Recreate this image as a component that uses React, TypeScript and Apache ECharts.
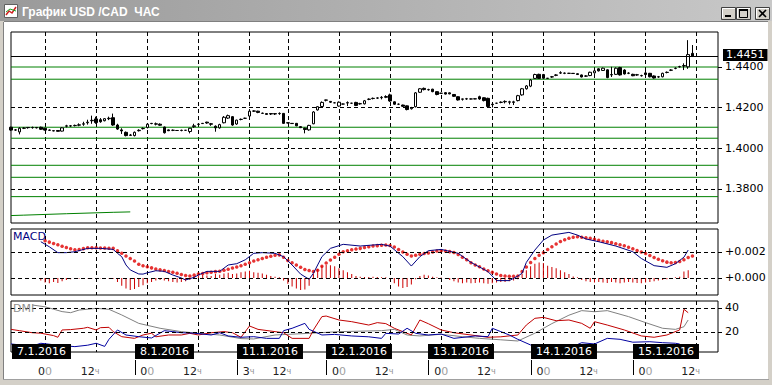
import React, { useEffect, useRef } from 'react';
import * as echarts from 'echarts';

// ---------- DATA ----------
const categories: string[] = Array.from({ length: 167 }, (_, i) => String(i));

// hourly candles [open, close, low, high], bar 0 .. 160
const candles: number[][] = [
  [1.4103,1.4089,1.4085,1.4106],[1.4089,1.4090,1.4085,1.4094],[1.4080,1.4098,1.4068,1.4103],[1.4098,1.4099,1.4094,1.4103],
  [1.4102,1.4101,1.4096,1.4103],[1.4101,1.4102,1.4096,1.4106],[1.4102,1.4100,1.4097,1.4104],[1.4103,1.4093,1.4090,1.4106],
  [1.4098,1.4089,1.4087,1.4100],[1.4089,1.4088,1.4085,1.4092],[1.4086,1.4085,1.4083,1.4087],[1.4087,1.4083,1.4082,1.4088],
  [1.4084,1.4100,1.4082,1.4103],[1.4108,1.4110,1.4102,1.4115],[1.4109,1.4110,1.4105,1.4114],[1.4111,1.4112,1.4107,1.4116],
  [1.4113,1.4115,1.4108,1.4122],[1.4118,1.4120,1.4110,1.4130],[1.4125,1.4128,1.4116,1.4140],[1.4135,1.4137,1.4120,1.4160],
  [1.4144,1.4126,1.4120,1.4155],[1.4140,1.4130,1.4125,1.4148],[1.4135,1.4145,1.4132,1.4148],[1.4145,1.4147,1.4138,1.4155],
  [1.4150,1.4114,1.4110,1.4170],[1.4114,1.4094,1.4090,1.4120],[1.4090,1.4085,1.4070,1.4098],[1.4078,1.4062,1.4058,1.4082],
  [1.4063,1.4065,1.4060,1.4070],[1.4062,1.4078,1.4058,1.4082],[1.4086,1.4088,1.4082,1.4093],[1.4096,1.4097,1.4092,1.4102],
  [1.4102,1.4118,1.4097,1.4121],[1.4122,1.4121,1.4118,1.4124],[1.4118,1.4120,1.4112,1.4126],[1.4118,1.4113,1.4110,1.4122],
  [1.4104,1.4076,1.4072,1.4106],[1.4090,1.4086,1.4084,1.4092],[1.4088,1.4088,1.4084,1.4092],[1.4087,1.4087,1.4086,1.4088],
  [1.4087,1.4088,1.4083,1.4091],[1.4088,1.4088,1.4086,1.4089],[1.4082,1.4098,1.4073,1.4100],[1.4106,1.4110,1.4100,1.4120],
  [1.4117,1.4118,1.4112,1.4122],[1.4122,1.4121,1.4119,1.4124],[1.4128,1.4124,1.4120,1.4130],[1.4120,1.4118,1.4110,1.4124],
  [1.4108,1.4100,1.4081,1.4112],[1.4100,1.4116,1.4096,1.4120],[1.4125,1.4152,1.4122,1.4158],[1.4148,1.4160,1.4144,1.4165],
  [1.4155,1.4114,1.4110,1.4158],[1.4119,1.4138,1.4115,1.4140],[1.4141,1.4142,1.4137,1.4146],[1.4147,1.4147,1.4144,1.4150],
  [1.4158,1.4182,1.4155,1.4186],[1.4182,1.4183,1.4178,1.4186],[1.4182,1.4176,1.4172,1.4184],[1.4171,1.4172,1.4168,1.4175],
  [1.4170,1.4166,1.4165,1.4172],[1.4170,1.4168,1.4163,1.4173],[1.4168,1.4170,1.4163,1.4173],[1.4170,1.4171,1.4164,1.4176],
  [1.4171,1.4122,1.4120,1.4173],[1.4125,1.4124,1.4122,1.4127],[1.4122,1.4121,1.4119,1.4123],[1.4122,1.4110,1.4108,1.4124],
  [1.4106,1.4101,1.4099,1.4108],[1.4098,1.4092,1.4073,1.4101],[1.4090,1.4112,1.4086,1.4115],[1.4120,1.4178,1.4118,1.4182],
  [1.4188,1.4204,1.4185,1.4206],[1.4205,1.4225,1.4202,1.4230],[1.4237,1.4236,1.4230,1.4238],[1.4230,1.4226,1.4222,1.4232],
  [1.4223,1.4223,1.4221,1.4225],[1.4207,1.4226,1.4204,1.4230],[1.4217,1.4217,1.4215,1.4219],[1.4222,1.4224,1.4207,1.4230],
  [1.4221,1.4221,1.4219,1.4223],[1.4225,1.4210,1.4207,1.4228],[1.4218,1.4219,1.4214,1.4223],[1.4218,1.4233,1.4215,1.4237],
  [1.4240,1.4241,1.4236,1.4245],[1.4244,1.4245,1.4240,1.4249],[1.4246,1.4247,1.4242,1.4250],[1.4248,1.4250,1.4240,1.4256],
  [1.4250,1.4254,1.4246,1.4260],[1.4262,1.4232,1.4228,1.4268],[1.4228,1.4216,1.4213,1.4230],[1.4216,1.4216,1.4212,1.4220],
  [1.4212,1.4206,1.4203,1.4214],[1.4208,1.4190,1.4186,1.4210],[1.4194,1.4200,1.4190,1.4203],[1.4204,1.4272,1.4200,1.4276],
  [1.4275,1.4292,1.4272,1.4295],[1.4294,1.4288,1.4284,1.4298],[1.4287,1.4288,1.4283,1.4292],[1.4290,1.4278,1.4275,1.4292],
  [1.4278,1.4264,1.4260,1.4280],[1.4270,1.4270,1.4268,1.4272],[1.4273,1.4266,1.4264,1.4276],[1.4272,1.4267,1.4265,1.4274],
  [1.4264,1.4255,1.4252,1.4266],[1.4253,1.4237,1.4234,1.4255],[1.4242,1.4241,1.4234,1.4243],[1.4242,1.4243,1.4238,1.4247],
  [1.4242,1.4242,1.4240,1.4244],[1.4242,1.4243,1.4241,1.4245],[1.4253,1.4242,1.4238,1.4258],[1.4248,1.4234,1.4230,1.4250],
  [1.4245,1.4205,1.4202,1.4248],[1.4216,1.4214,1.4200,1.4218],[1.4221,1.4221,1.4219,1.4223],[1.4225,1.4226,1.4221,1.4230],
  [1.4228,1.4230,1.4220,1.4235],[1.4226,1.4228,1.4215,1.4233],[1.4225,1.4228,1.4212,1.4233],[1.4234,1.4258,1.4230,1.4262],
  [1.4262,1.4292,1.4258,1.4296],[1.4292,1.4306,1.4288,1.4310],[1.4305,1.4335,1.4300,1.4340],[1.4343,1.4362,1.4340,1.4366],
  [1.4363,1.4343,1.4340,1.4366],[1.4362,1.4344,1.4341,1.4365],[1.4344,1.4343,1.4341,1.4345],[1.4350,1.4351,1.4346,1.4355],
  [1.4358,1.4360,1.4354,1.4364],[1.4369,1.4371,1.4365,1.4378],[1.4368,1.4369,1.4364,1.4372],[1.4368,1.4368,1.4366,1.4370],
  [1.4368,1.4367,1.4365,1.4369],[1.4366,1.4362,1.4360,1.4368],[1.4360,1.4350,1.4348,1.4362],[1.4354,1.4355,1.4350,1.4359],
  [1.4357,1.4373,1.4354,1.4376],[1.4370,1.4380,1.4366,1.4384],[1.4390,1.4380,1.4377,1.4393],[1.4382,1.4393,1.4380,1.4396],
  [1.4385,1.4347,1.4344,1.4388],[1.4360,1.4362,1.4350,1.4400],[1.4363,1.4393,1.4360,1.4397],[1.4396,1.4360,1.4357,1.4400],
  [1.4384,1.4365,1.4362,1.4388],[1.4368,1.4369,1.4364,1.4373],[1.4363,1.4356,1.4354,1.4366],[1.4360,1.4361,1.4356,1.4365],
  [1.4356,1.4357,1.4352,1.4361],[1.4370,1.4362,1.4350,1.4398],[1.4368,1.4351,1.4348,1.4370],[1.4355,1.4345,1.4342,1.4358],
  [1.4350,1.4351,1.4346,1.4355],[1.4351,1.4368,1.4348,1.4371],[1.4372,1.4373,1.4368,1.4377],[1.4383,1.4384,1.4379,1.4388],
  [1.4392,1.4393,1.4388,1.4397],[1.4400,1.4401,1.4396,1.4405],[1.4404,1.4406,1.4384,1.4417],[1.4400,1.4460,1.4390,1.4531],
  [1.4466,1.4451,1.4448,1.4507],
];

const lastPrice = 1.4451;
const priceTicks = [1.44, 1.42, 1.40, 1.38];
const priceDashed = [1.42, 1.40, 1.38];
const greenLevels = [1.4399, 1.4339, 1.4103, 1.4049, 1.3916, 1.3857, 1.3762];
const greenTrend: number[][] = [[0, 1.3669], [3, 1.3671], [13, 1.3678], [24, 1.3685], [28, 1.3687]];

// MACD (values in 1e-5)
const macdLine: number[][] = [
  [7,279],[9,240],[11,195],[13,195],[15,202],[18,228],[21,228],[24,220],[25,190],[26,164],[27,100],[28,62],[30,31],[31,30],
  [32,40],[34,56],[36,51],[38,23],[40,0],[41,-15],[43,5],[44,23],[46,51],[49,51],[51,100],[53,110],[55,140],[57,190],[59,195],
  [62,190],[64,164],[66,100],[68,30],[70,-10],[71,36],[73,164],[75,228],[78,259],[82,246],[87,259],[89,245],[92,164],[94,92],
  [96,164],[98,210],[101,220],[105,190],[108,120],[112,49],[114,-20],[117,-20],[119,15],[120,36],[121,120],[123,215],[125,292],
  [127,330],[131,351],[133,330],[135,300],[138,279],[142,246],[146,202],[148,150],[151,95],[154,82],[156,110],[158,160],[159,215],
];
const signalStart = 8;
const signalLine: number[] = [
  287,276,265,256,245,235,225,217,220,226,232,233,232,231,230,229,228,
  210,190,170,150,130,105,95,86,78,70,63,57,50,44,36,27,19,15,
  22,30,35,40,45,49,52,60,68,77,85,95,106,117,130,140,150,160,168,175,178,
  160,135,118,100,82,65,57,50,60,90,115,138,160,182,202,210,217,223,228,234,240,246,249,252,254,
  250,238,220,200,182,169,175,182,188,192,200,207,210,208,203,196,180,160,140,118,100,86,70,55,45,30,20,15,13,14,16,
  50,85,120,150,175,195,220,240,262,280,295,305,313,318,314,310,305,298,290,283,278,272,264,256,248,237,225,212,200,188,173,158,145,132,122,117,120,127,140,158,170,
];
const histStart = 7;
const histogram: number[] = [
  -20,-35,-40,-30,-38,-25,-15,-10,-5,-3,-3,-2,-3,-3,-2,-3,-3,-5,
  -30,-60,-80,-92,-85,-70,-55,-40,-30,-20,-15,-20,-25,-30,-35,-30,-25,-15,
  10,15,25,20,15,30,25,35,40,30,35,45,50,55,45,40,35,25,15,10,5,
  -20,-45,-65,-80,-92,-88,-60,30,70,95,100,98,90,75,60,45,30,15,10,8,8,10,8,6,5,
  -10,-40,-65,-77,-70,-50,-10,15,25,20,10,5,3,-5,-15,-25,-35,-40,-35,-40,-38,-35,-40,-45,-40,-35,-30,-30,-25,-20,-10,
  30,60,90,110,120,115,95,85,75,60,45,30,12,5,-15,-25,-30,-35,-30,-35,-38,-30,-35,-40,-35,-30,-35,-38,-40,-35,-30,-25,-20,-15,-10,-5,5,10,50,60,
];
const macdTicks = [0.002, 0];

// DMI
const adx: number[][] = [
  [5,42.5],[8,41],[10,39],[12,37],[14,36.1],[16,38.3],[20,39.7],[23,38.9],[26,34.2],[30,27.2],[35,23.1],[40,20.3],[44,18.9],
  [49,17.5],[54,14.5],[57,14.2],[62,17.5],[70,18.9],[77,20.3],[87,21.1],[90,22.2],[93,17.5],[96,16.7],[101,18.1],[106,16.1],
  [110,14.7],[115,13.5],[119,12.5],[123,19],[127,27],[131,34],[134,37.8],[137,36.9],[140,37.8],[145,32.8],[149,27.8],[153,23.1],
  [156,22.2],[158,24.4],[159,30],
];
const plusDI: number[][] = [
  [0,22.2],[2,21.1],[5,19.4],[7,19],[10,17],[11,15.6],[12,21.7],[14,22],[17,23.1],[18,23.9],[20,21.7],[21,23.6],[23,23.9],
  [24,20.3],[26,16.1],[29,14.7],[31,17.5],[33,19],[34,16],[37,17.5],[40,17.5],[42,18.9],[44,17.5],[47,19.4],[50,20.3],[52,19.4],
  [54,15.6],[56,25],[58,22.2],[62,20.3],[64,19.4],[66,14.7],[70,14.7],[71,21.7],[73,32.8],[74,33.3],[77,30],[80,28.6],[84,25.8],
  [86,27.8],[88,27],[90,23.1],[92,20.3],[94,17.5],[96,30],[98,26.9],[101,21.7],[104,19.4],[108,17.5],[112,15.6],[115,16],
  [119,17.5],[121,25.8],[123,31.4],[125,32.2],[128,29.4],[131,30],[134,27.2],[136,23.1],[137,28.6],[140,25.8],[144,21.7],
  [148,16.7],[151,15.6],[154,17.5],[157,21.7],[158,38.9],[159,36.1],
];
const minusDI: number[][] = [
  [0,10],[5,8.3],[7,10.6],[11,9],[15,7.8],[18,9],[20,10.6],[22,8],[23,13.9],[25,21.7],[27,17.5],[30,16.1],[33,15],[36,21.1],
  [38,20.3],[40,19.4],[43,19],[47,17.5],[49,19.4],[51,16.7],[54,15.6],[57,16.1],[60,14.7],[63,14.7],[64,21.1],[66,23.1],
  [69,27.2],[70,22.2],[73,17.5],[76,18],[80,16.7],[84,16],[87,14.7],[88,18.9],[91,18.3],[93,23.1],[95,18.9],[98,17.5],
  [101,18.3],[104,14.7],[109,16.7],[112,16.1],[113,23.1],[115,20.3],[117,17.5],[119,13.9],[122,9.2],[125,6.4],[131,6.4],
  [134,11.1],[137,10],[140,14.7],[143,13.9],[146,11.5],[150,11.9],[153,11.1],[156,10.6],[157,10],
];
const dmiTicks = [40, 20];

// time axis labels
const hourTicks = [
  { idx: 8, h: '00' }, { idx: 20, h: '12' }, { idx: 32, h: '00' }, { idx: 44, h: '12' }, { idx: 56, h: '3' },
  { idx: 65, h: '12' }, { idx: 77, h: '00' }, { idx: 89, h: '12' }, { idx: 101, h: '00' }, { idx: 113, h: '12' },
  { idx: 125, h: '00' }, { idx: 137, h: '12' }, { idx: 149, h: '00' }, { idx: 161, h: '12' },
];
const dayLabels = [
  { text: '7.1.2016', idx: 0 }, { text: '8.1.2016', idx: 29 }, { text: '11.1.2016', idx: 53 },
  { text: '12.1.2016', idx: 74 }, { text: '13.1.2016', idx: 98 }, { text: '14.1.2016', idx: 122 },
  { text: '15.1.2016', idx: 146 },
];

// ---------- CHART ----------
const FONT = 'DejaVu Sans';
const gridIdx = hourTicks.map((t) => t.idx);
const DASH = [4, 3];
const LAST_CAT = categories.length - 1;

function buildOption(): any {
  const grids = [
    { top: 32, height: 191 },
    { top: 229, height: 66 },
    { top: 301, height: 51 },
  ].map((g) => ({
    left: 11, width: 707, top: g.top, height: g.height, show: true,
    borderColor: '#000', borderWidth: 1, backgroundColor: '#fff',
  }));
  const xAxes = [0, 1, 2].map((g) => ({
    type: 'category', gridIndex: g, data: categories, boundaryGap: false,
    axisLine: { show: false }, axisTick: { show: false }, axisLabel: { show: false },
    splitLine: {
      show: true,
      interval: (index: number) => gridIdx.indexOf(index) >= 0,
      lineStyle: { color: '#000', type: DASH, width: 1 },
    },
  }));
  const yBase = (gridIndex: number, min: number, max: number, ticks: number[], fmt: (v: number) => string, padTop: number) => ({
    type: 'value', gridIndex, position: 'right', min, max,
    splitLine: { show: false }, axisLine: { show: false },
    axisTick: { show: true, customValues: ticks, length: 4, lineStyle: { color: '#000', width: 1 } },
    axisLabel: { customValues: ticks, formatter: fmt, color: '#000', fontSize: 11, fontFamily: FONT, margin: 7, lineHeight: 11, padding: [padTop, 0, 0, 0] },
  });
  const yAxes = [
    yBase(0, 1.363244, 1.457101, priceTicks, (v) => v.toFixed(4), 0),
    yBase(1, -0.0013077, 0.0037692, macdTicks, (v) => '+' + Math.abs(v).toFixed(3), 4),
    yBase(2, 3.333, 45.833, dmiTicks, (v) => String(v), 4),
  ];
  const dashedML = (vals: number[]) => vals.map((v) => ({ yAxis: v, lineStyle: { color: '#000', type: DASH, width: 1 } }));
  const mlBase = { silent: true, symbol: ['none', 'none'], animation: false, precision: 6, label: { show: false } };

  const greenSeries = greenLevels.map((v) => ({
    type: 'line', xAxisIndex: 0, yAxisIndex: 0, symbol: 'none', silent: true, z: 3,
    data: [[0, v], [LAST_CAT, v]],
    lineStyle: { color: '#008000', width: 1, type: 'solid' },
  }));

  return {
    animation: false,
    backgroundColor: '#ffffff',
    textStyle: { fontFamily: FONT },
    grid: grids,
    xAxis: xAxes,
    yAxis: yAxes,
    series: [
      ...greenSeries,
      {
        type: 'candlestick', xAxisIndex: 0, yAxisIndex: 0, data: candles, barWidth: 3, z: 4,
        itemStyle: { color: '#ffffff', color0: '#000000', borderColor: '#000000', borderColor0: '#000000', borderColorDoji: '#000000', borderWidth: 1 },
        markLine: {
          ...mlBase,
          data: [
            ...dashedML(priceDashed),
            { yAxis: lastPrice, lineStyle: { color: '#000', type: 'solid', width: 1 } },
          ],
        },
      },
      {
        type: 'line', xAxisIndex: 0, yAxisIndex: 0, data: greenTrend, symbol: 'none',
        lineStyle: { color: '#008000', width: 1 }, silent: true,
      },
      {
        type: 'bar', xAxisIndex: 1, yAxisIndex: 1, barWidth: 1,
        data: histogram.map((v, k) => [k + histStart, v / 100000]),
        itemStyle: { color: '#cc0000' }, silent: true,
        markLine: { ...mlBase, data: dashedML(macdTicks) },
      },
      {
        type: 'line', xAxisIndex: 1, yAxisIndex: 1, symbol: 'none',
        data: macdLine.map((p) => [p[0], p[1] / 100000]),
        lineStyle: { color: '#000080', width: 1 }, silent: true,
      },
      {
        type: 'scatter', xAxisIndex: 1, yAxisIndex: 1, symbol: 'circle', symbolSize: 3.5,
        data: signalLine.map((v, k) => [k + signalStart, v / 100000]),
        itemStyle: { color: '#e00000' }, silent: true,
      },
      {
        type: 'line', xAxisIndex: 2, yAxisIndex: 2, symbol: 'none', data: adx,
        lineStyle: { color: '#808080', width: 1 }, silent: true,
        markLine: { ...mlBase, data: dashedML(dmiTicks) },
      },
      {
        type: 'line', xAxisIndex: 2, yAxisIndex: 2, symbol: 'none', data: plusDI,
        lineStyle: { color: '#c00000', width: 1 }, silent: true,
      },
      {
        type: 'line', xAxisIndex: 2, yAxisIndex: 2, symbol: 'none', data: minusDI,
        lineStyle: { color: '#0000a0', width: 1 }, silent: true,
      },
    ],
  };
}

function buildGraphics(xOf: (i: number) => number, yPrice: (v: number) => number): any[] {
  const els: any[] = [];
  // window chrome
  els.push({ type: 'rect', z: 100, shape: { x: 0, y: 0, width: 772, height: 21 },
    style: { fill: { type: 'linear', x: 0, y: 0, x2: 1, y2: 0, colorStops: [{ offset: 0, color: '#9a9a9a' }, { offset: 1, color: '#c8c8c8' }] } } });
  els.push({ type: 'line', z: 100, shape: { x1: 0, y1: 21.5, x2: 772, y2: 21.5 }, style: { stroke: '#808080', lineWidth: 1 } });
  els.push({ type: 'rect', z: 100, shape: { x: 0, y: 21, width: 4, height: 364 }, style: { fill: '#d4d0c8' } });
  els.push({ type: 'line', z: 100, shape: { x1: 3.5, y1: 22, x2: 3.5, y2: 379 }, style: { stroke: '#808080', lineWidth: 1 } });
  els.push({ type: 'rect', z: 100, shape: { x: 768, y: 21, width: 4, height: 364 }, style: { fill: '#d4d0c8' } });
  els.push({ type: 'rect', z: 100, shape: { x: 0, y: 379, width: 772, height: 6 }, style: { fill: '#d4d0c8' } });
  els.push({ type: 'line', z: 100, shape: { x1: 3, y1: 379.5, x2: 769, y2: 379.5 }, style: { stroke: '#a0a0a0', lineWidth: 1 } });
  // icon
  els.push({ type: 'rect', z: 101, shape: { x: 4.5, y: 4.5, width: 13, height: 13 }, style: { fill: '#ffffff', stroke: '#606060', lineWidth: 1 } });
  els.push({ type: 'polyline', z: 102, shape: { points: [[6, 15], [9, 11], [12, 13], [16, 7]] }, style: { stroke: '#d02020', lineWidth: 1.5, fill: 'none' } });
  els.push({ type: 'polyline', z: 102, shape: { points: [[6, 12], [10, 9], [16, 11]] }, style: { stroke: '#20a020', lineWidth: 1, fill: 'none' } });
  // title
  els.push({ type: 'text', z: 101, x: 22, y: 12, style: { text: 'График USD /CAD  ЧАС', fill: '#ffffff', fontFamily: 'Liberation Sans', fontWeight: 'bold', fontSize: 12, verticalAlign: 'middle', align: 'left' } });
  // buttons
  const btns = [721, 736, 755];
  btns.forEach((bx) => {
    els.push({ type: 'rect', z: 101, shape: { x: bx + 0.5, y: 7.5, width: 14, height: 12 }, style: { fill: '#d4d0c8', stroke: '#404040', lineWidth: 1 } });
    els.push({ type: 'polyline', z: 102, shape: { points: [[bx + 1.5, 18], [bx + 1.5, 8.5], [bx + 14, 8.5]] }, style: { stroke: '#ffffff', lineWidth: 1, fill: 'none' } });
  });
  els.push({ type: 'rect', z: 103, shape: { x: 725, y: 15, width: 6, height: 2 }, style: { fill: '#000' } });
  els.push({ type: 'rect', z: 103, shape: { x: 739.5, y: 9.5, width: 8, height: 8 }, style: { fill: 'none', stroke: '#000', lineWidth: 1 } });
  els.push({ type: 'rect', z: 103, shape: { x: 739, y: 9, width: 9, height: 2 }, style: { fill: '#000' } });
  els.push({ type: 'line', z: 103, shape: { x1: 759, y1: 10, x2: 766, y2: 17 }, style: { stroke: '#000', lineWidth: 1.6 } });
  els.push({ type: 'line', z: 103, shape: { x1: 766, y1: 10, x2: 759, y2: 17 }, style: { stroke: '#000', lineWidth: 1.6 } });
  // last price tag
  const tagX = xOf(LAST_CAT) + 5;
  els.push({ type: 'text', z: 105, x: tagX, y: yPrice(lastPrice) - 1.5, style: {
    text: lastPrice.toFixed(4), fill: '#ffffff', backgroundColor: '#000000', padding: [1, 3, 0, 3], lineHeight: 11,
    fontFamily: FONT, fontSize: 11, verticalAlign: 'middle', align: 'left' } });
  // panel labels
  els.push({ type: 'text', z: 101, x: 13, y: 231, style: { text: 'MACD', fill: '#000080', fontFamily: FONT, fontSize: 11, verticalAlign: 'top' } });
  els.push({ type: 'text', z: 101, x: 13, y: 303, style: { text: 'DMI', fill: '#909090', fontFamily: FONT, fontSize: 11, verticalAlign: 'top' } });
  // day boxes
  dayLabels.forEach((d, k) => {
    const bx = Math.max(12, Math.round(xOf(d.idx)));
    els.push({ type: 'text', z: 110, x: bx, y: 344, style: {
      text: d.text, fill: '#ffffff', backgroundColor: '#000000', padding: [2, 5, 2, 5],
      fontFamily: FONT, fontSize: 11, verticalAlign: 'top', align: 'left' } });
    if (k > 0) {
      els.push({ type: 'line', z: 110, shape: { x1: bx + 0.5, y1: 360, x2: bx + 0.5, y2: 375 }, style: { stroke: '#000', lineWidth: 1 } });
    }
  });
  // hour labels
  hourTicks.forEach((t) => {
    const gx = xOf(t.idx);
    const isZero = t.h === '00';
    const text = isZero ? '{b|0}{g|0}' : '{b|' + t.h + '}{s|ч}';
    const cx = isZero ? gx : (t.h === '3' ? gx - 1 : gx - 6);
    els.push({ type: 'text', z: 110, x: cx, y: 371, style: {
      text, align: 'center', verticalAlign: 'middle', fontFamily: FONT, fontSize: 11,
      rich: {
        b: { fill: '#202020', fontFamily: FONT, fontSize: 11 },
        g: { fill: '#a0a0a0', fontFamily: FONT, fontSize: 11 },
        s: { fill: '#909090', fontFamily: FONT, fontSize: 8 },
      } } });
  });
  return els;
}

export default function App() {
  const ref = useRef<HTMLDivElement>(null);
  useEffect(() => {
    document.body.style.margin = '0';
    const chart = echarts.init(ref.current as HTMLDivElement, null, { renderer: 'svg' });
    chart.setOption(buildOption());
    const xOf = (i: number) => chart.convertToPixel({ xAxisIndex: 2 } as any, i) as unknown as number;
    const yPrice = (v: number) => chart.convertToPixel({ yAxisIndex: 0 } as any, v) as unknown as number;
    chart.setOption({ graphic: { elements: buildGraphics(xOf, yPrice) } });
    return () => chart.dispose();
  }, []);
  return <div ref={ref} style={{ width: 772, height: 385 }} />;
}
